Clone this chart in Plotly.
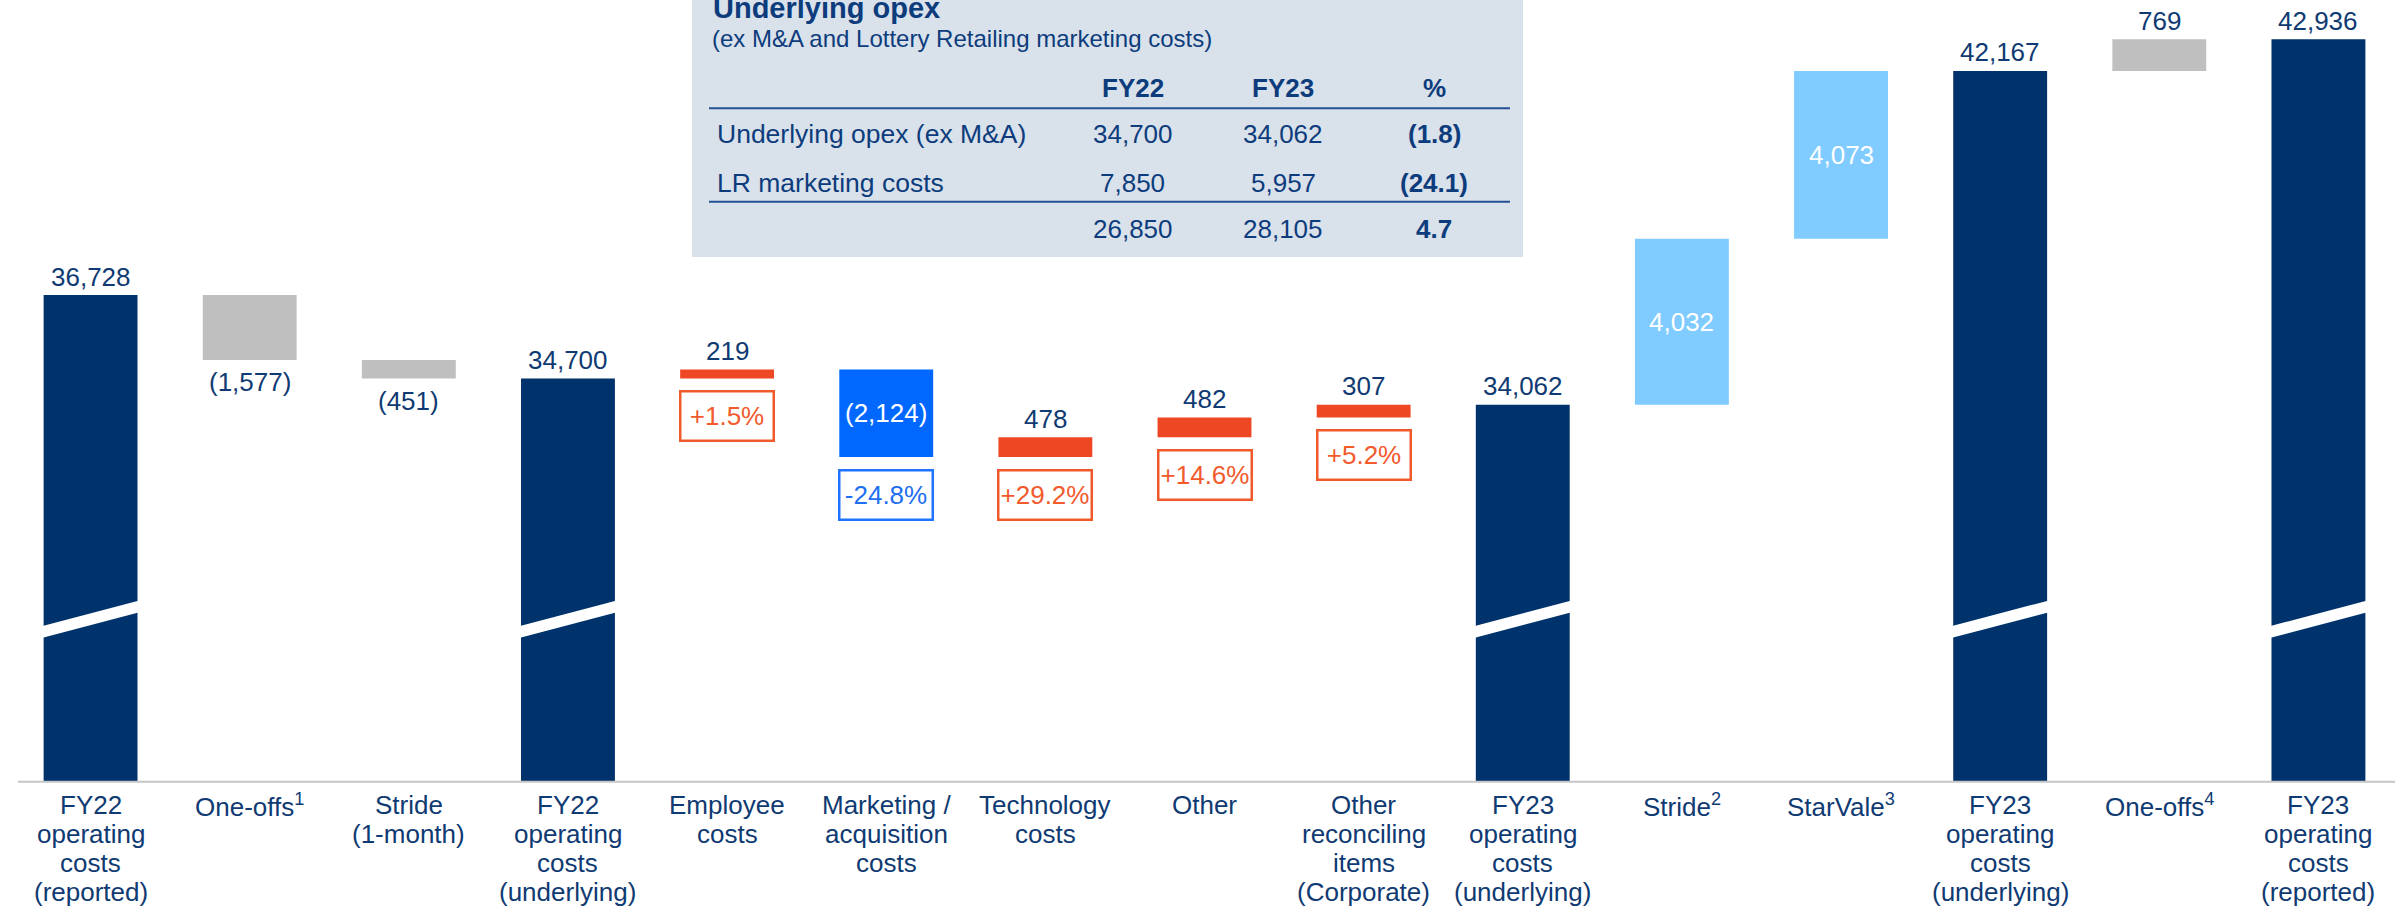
import plotly.graph_objects as go

# ---------------- data ----------------
categories = [
    "FY22<br>operating<br>costs<br>(reported)",
    "One-offs<sup>1</sup>",
    "Stride<br>(1-month)",
    "FY22<br>operating<br>costs<br>(underlying)",
    "Employee<br>costs",
    "Marketing /<br>acquisition<br>costs",
    "Technology<br>costs",
    "Other",
    "Other<br>reconciling<br>items<br>(Corporate)",
    "FY23<br>operating<br>costs<br>(underlying)",
    "Stride<sup>2</sup>",
    "StarVale<sup>3</sup>",
    "FY23<br>operating<br>costs<br>(underlying)",
    "One-offs<sup>4</sup>",
    "FY23<br>operating<br>costs<br>(reported)",
]
measures = ["total", "delta", "delta", "total", "delta", "delta", "delta", "delta",
            "delta", "total", "delta", "delta", "total", "delta", "total"]
values = [36728, -1577, -451, 34700, 219, -2124, 478, 482, 307, 34062, 4032, 4073,
          42167, 769, 42936]
change_pct = [None, None, None, None, "+1.5%", "-24.8%", "+29.2%", "+14.6%", "+5.2%",
              None, None, None, None, None, None]

table_title = "Underlying opex"
table_subtitle = "(ex M&A and Lottery Retailing marketing costs)"
table_columns = ["FY22", "FY23", "%"]
table_rows = ["Underlying opex (ex M&A)", "LR marketing costs", ""]
table_fy22 = [34700, 7850, 26850]
table_fy23 = [34062, 5957, 28105]
table_pct = ["(1.8)", "(24.1)", "4.7"]

# ---------------- styles ----------------
NAVY = "#00336B"
GREY = "#BFBFBF"
ORANGE = "#EE4723"
BLUE = "#0068FF"
LIGHT = "#80CBFF"
TXT = "#0F3A72"
TBL_TXT = "#0D3C7C"
FONT = "Liberation Sans, Arial, Helvetica, sans-serif"

bar_colors = [NAVY, GREY, GREY, NAVY, ORANGE, BLUE, ORANGE, ORANGE, ORANGE, NAVY,
              LIGHT, LIGHT, NAVY, GREY, NAVY]
label_pos = ["above", "below", "below", "above", "above", "inside", "above", "above",
             "above", "above", "inside", "inside", "above", "above", "above"]

W, H = 2404, 907
ML, MR, MT, MB = 11, 6, 0, 126
PW, PH = W - ML - MR, H - MT - MB
Y_MIN, Y_MAX = 24932, 43888


def px_x(px):
    return (px - ML) / PW


def px_y(py):
    return 1 - (py - MT) / PH


# ---------------- waterfall geometry ----------------
xs = list(range(len(values)))
bases, heights, tops, bottoms = [], [], [], []
level = 0
for m, v in zip(measures, values):
    if m == "total":
        b, t = Y_MIN, v
        level = v
    else:
        start, end = level, level + v
        b, t = min(start, end), max(start, end)
        level = end
    bases.append(b)
    heights.append(t - b)
    tops.append(t)
    bottoms.append(b)

fig = go.Figure()
fig.add_trace(go.Bar(
    x=xs, y=heights, base=bases, width=0.59,
    marker=dict(color=bar_colors, line=dict(width=0)),
    hoverinfo="skip", showlegend=False,
))


def fmt(v):
    return f"{v:,}" if v >= 0 else f"({abs(v):,})"


annotations = []
for i, v in enumerate(values):
    pos = label_pos[i]
    if pos == "above":
        y, ys, col = tops[i], 18.5, TXT
    elif pos == "below":
        y, ys, col = bottoms[i], -22, TXT
    else:
        y, ys, col = (tops[i] + bottoms[i]) / 2, 0, "white"
    annotations.append(dict(
        x=i, y=y, xref="x", yref="y", text=fmt(v), showarrow=False,
        yanchor="middle", xanchor="center", yshift=ys,
        font=dict(family=FONT, size=26, color=col),
    ))
    if change_pct[i]:
        neg = change_pct[i].startswith("-")
        bc = "#1F73FF" if neg else "#F05A2A"
        tc = "#1E6FF0" if neg else "#F25A2C"
        annotations.append(dict(
            x=i, y=bottoms[i], xref="x", yref="y", text=change_pct[i],
            showarrow=False, yanchor="top", xanchor="center", yshift=-11.5,
            width=89, height=45, borderpad=1, borderwidth=2.5, bordercolor=bc,
            bgcolor="white", align="center", valign="middle",
            font=dict(family=FONT, size=26, color=tc),
        ))

# category labels (one annotation per line)
for i, cat in enumerate(categories):
    for j, line in enumerate(cat.split("<br>")):
        base_px = 814.3 + 28.8 * j
        annotations.append(dict(
            x=i, xref="x", y=px_y(base_px - 0.3465 * 26), yref="paper",
            text=line, showarrow=False, xanchor="center", yanchor="middle",
            font=dict(family=FONT, size=26, color=TXT),
        ))


# table text
def tbl(xpx, base_px, text, size, bold=False, anchor="center"):
    annotations.append(dict(
        x=px_x(xpx), y=px_y(base_px - 0.3465 * size), xref="paper", yref="paper",
        text=f"<b>{text}</b>" if bold else text, showarrow=False,
        xanchor=anchor, yanchor="middle", borderpad=0,
        font=dict(family=FONT, size=size, color=TBL_TXT),
    ))


tbl(712, 18.3, table_title, 29, bold=True, anchor="left")
tbl(711, 46.9, table_subtitle, 24, anchor="left")
col_x = [1132.5, 1283.3, 1434.5]
for cx, c in zip(col_x, table_columns):
    tbl(cx, 96.7, c, 26, bold=True)
row_base = [143.3, 191.7, 238.3]
for r in range(len(table_rows)):
    if table_rows[r]:
        tbl(716, row_base[r], table_rows[r], 26.5, anchor="left")
    tbl(col_x[0], row_base[r], f"{table_fy22[r]:,}", 26)
    tbl(col_x[1], row_base[r], f"{table_fy23[r]:,}", 26)
    tbl(col_x[2], row_base[r], table_pct[r], 26, bold=True)

shapes = [
    dict(type="rect", xref="paper", yref="paper", x0=px_x(692), x1=px_x(1523),
         y0=px_y(257), y1=px_y(0), fillcolor="#D9E1EB", line=dict(width=0),
         layer="below"),
    dict(type="line", xref="paper", yref="paper", x0=px_x(709), x1=px_x(1510),
         y0=px_y(108.3), y1=px_y(108.3), line=dict(color="#245093", width=2)),
    dict(type="line", xref="paper", yref="paper", x0=px_x(709), x1=px_x(1510),
         y0=px_y(201.7), y1=px_y(201.7), line=dict(color="#245093", width=2)),
    dict(type="line", xref="paper", yref="paper", x0=px_x(18), x1=px_x(2395),
         y0=px_y(781.8), y1=px_y(781.8), line=dict(color="#C6C6C6", width=2)),
]
# axis-break marks on total bars
for i, m in enumerate(measures):
    if m == "total":
        shapes.append(dict(
            type="line", xref="x", yref="paper", x0=i - 0.31, x1=i + 0.31,
            y0=px_y(632.3), y1=px_y(606.2),
            line=dict(color="white", width=11.5), layer="above",
        ))

fig.update_layout(
    width=W, height=H,
    margin=dict(l=ML, r=MR, t=MT, b=MB, pad=0),
    paper_bgcolor="white", plot_bgcolor="white",
    xaxis=dict(range=[-0.5, len(values) - 0.5], showticklabels=False,
               showgrid=False, zeroline=False, showline=False, ticks=""),
    yaxis=dict(range=[Y_MIN, Y_MAX], visible=False, showgrid=False, zeroline=False),
    annotations=annotations, shapes=shapes,
    font=dict(family=FONT, color=TXT),
    showlegend=False,
)

fig.write_html(
    "out.html",
    config={"displayModeBar": False},
    post_script="document.body.style.margin='0px';document.body.style.padding='0px';"
                "document.body.style.overflow='hidden';",
)
